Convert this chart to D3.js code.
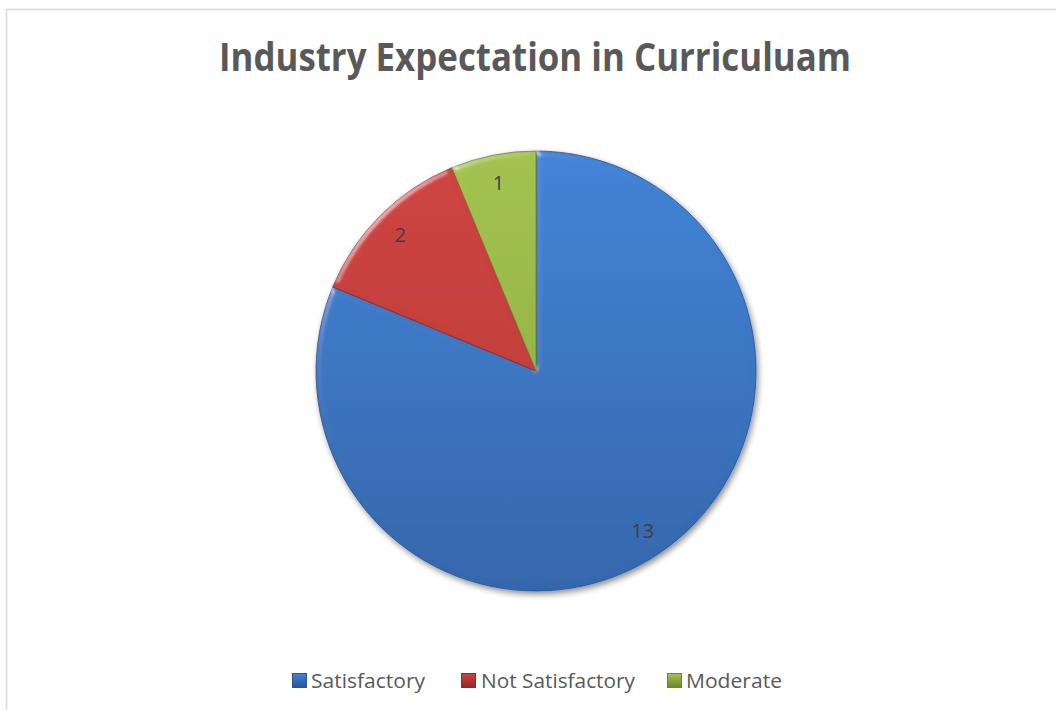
<!DOCTYPE html>
<html><head><meta charset="utf-8">
<script src="https://cdn.jsdelivr.net/npm/d3@7/dist/d3.min.js"></script>
<style>html,body{margin:0;padding:0;background:#fff;}svg{display:block;}</style>
</head><body>
<svg id="chart" width="1056" height="710"></svg>
<script>
const categories = ["Satisfactory", "Not Satisfactory", "Moderate"];
const values = [13, 2, 1];
const title = "Industry Expectation in Curriculuam";

const colors = {
  "Satisfactory": ["#4184d6", "#3566ac", "#2a5390"],
  "Not Satisfactory": ["#cf4441", "#b53936", "#8c2a28"],
  "Moderate": ["#a3c350", "#89a63d", "#6b842f"]
};

const W = 1056, H = 710;
const svg = d3.select("#chart");
const defs = svg.append("defs");

// chart border
svg.append("path").attr("d", `M6.5,${H} L6.5,9.5 L${W},9.5`)
  .attr("fill", "none").attr("stroke", "#d9d9d9").attr("stroke-width", 1.5);

// title
svg.append("text").attr("x", 535).attr("y", 71).attr("text-anchor", "middle")
  .attr("font-family", "'Open Sans', 'DejaVu Sans', sans-serif").attr("font-weight", "bold")
  .attr("font-size", 39).attr("fill", "#595959").text(title)
  .attr("textLength", 632).attr("lengthAdjust", "spacingAndGlyphs");

const cx = 536, cy = 371, r = 220;

// filters
const shadow = defs.append("filter").attr("id", "shadow").attr("x", "-20%").attr("y", "-20%").attr("width", "140%").attr("height", "140%");
shadow.append("feGaussianBlur").attr("in", "SourceAlpha").attr("stdDeviation", 3).attr("result", "b");
shadow.append("feOffset").attr("in", "b").attr("dx", 2).attr("dy", 3).attr("result", "o");
shadow.append("feComponentTransfer").attr("in", "o").attr("result", "oa")
  .append("feFuncA").attr("type", "linear").attr("slope", 0.45);
const m = shadow.append("feMerge");
m.append("feMergeNode").attr("in", "oa");
m.append("feMergeNode").attr("in", "SourceGraphic");

const bevel = defs.append("filter").attr("id", "bevel").attr("x", "-5%").attr("y", "-5%").attr("width", "110%").attr("height", "110%");
bevel.append("feGaussianBlur").attr("in", "SourceAlpha").attr("stdDeviation", 3).attr("result", "blur");
const spec = bevel.append("feSpecularLighting").attr("in", "blur").attr("surfaceScale", 3)
  .attr("specularConstant", 0.6).attr("specularExponent", 35).attr("lighting-color", "#ffffff").attr("result", "spec");
spec.append("feDistantLight").attr("azimuth", 225).attr("elevation", 30);
bevel.append("feComposite").attr("in", "spec").attr("in2", "SourceAlpha").attr("operator", "in").attr("result", "specOut");
bevel.append("feComposite").attr("in", "SourceGraphic").attr("in2", "specOut").attr("operator", "arithmetic")
  .attr("k1", 0).attr("k2", 1).attr("k3", 0.5).attr("k4", 0);

categories.forEach((c, i) => {
  const g = defs.append("linearGradient").attr("id", "grad" + i)
    .attr("gradientUnits", "userSpaceOnUse").attr("x1", 0).attr("y1", -r).attr("x2", 0).attr("y2", r);
  g.append("stop").attr("offset", "0%").attr("stop-color", colors[c][0]);
  g.append("stop").attr("offset", "100%").attr("stop-color", colors[c][1]);
  const lg = defs.append("linearGradient").attr("id", "lgrad" + i).attr("x1", 0).attr("y1", 0).attr("x2", 0).attr("y2", 1);
  lg.append("stop").attr("offset", "0%").attr("stop-color", colors[c][0]);
  lg.append("stop").attr("offset", "100%").attr("stop-color", colors[c][2]);
});

const data = categories.map((c, i) => ({ cat: c, value: values[i], i }));
const pie = d3.pie().value(d => d.value).sort(null);
const arcs = pie(data);
const arc = d3.arc().innerRadius(0).outerRadius(r);

const pg = svg.append("g").attr("transform", `translate(${cx},${cy})`).attr("filter", "url(#shadow)");
pg.selectAll("path").data(arcs).join("path").attr("d", arc)
  .attr("fill", d => `url(#grad${d.data.i})`)
  .attr("stroke", d => colors[d.data.cat][2]).attr("stroke-width", 0.8)
  .attr("filter", "url(#bevel)");

// labels
const labelArc = d3.arc().innerRadius(192).outerRadius(192);
svg.append("g").attr("transform", `translate(${cx},${cy})`)
  .selectAll("text").data(arcs).join("text")
  .attr("x", d => labelArc.centroid(d)[0]).attr("y", d => labelArc.centroid(d)[1])
  .attr("text-anchor", "middle").attr("dy", "0.36em")
  .attr("font-family", "'Open Sans', 'DejaVu Sans', sans-serif").attr("font-size", 20)
  .attr("fill", "#404040").text(d => d.data.value);

// legend
const legendItems = [
  { sx: 292, tx: 311, tw: 114 },
  { sx: 461, tx: 481, tw: 154 },
  { sx: 667, tx: 686, tw: 96 }
];
const lgG = svg.append("g");
categories.forEach((c, i) => {
  const it = legendItems[i];
  lgG.append("rect").attr("x", it.sx + 0.5).attr("y", 673.5).attr("width", 14).attr("height", 14)
    .attr("fill", `url(#lgrad${i})`).attr("stroke", colors[c][2]).attr("stroke-width", 1);
  lgG.append("text").attr("x", it.tx).attr("y", 688)
    .attr("font-family", "'Open Sans', 'DejaVu Sans', sans-serif").attr("font-size", 20)
    .attr("fill", "#595959").attr("textLength", it.tw).attr("lengthAdjust", "spacingAndGlyphs").text(c);
});
</script>
</body></html>
